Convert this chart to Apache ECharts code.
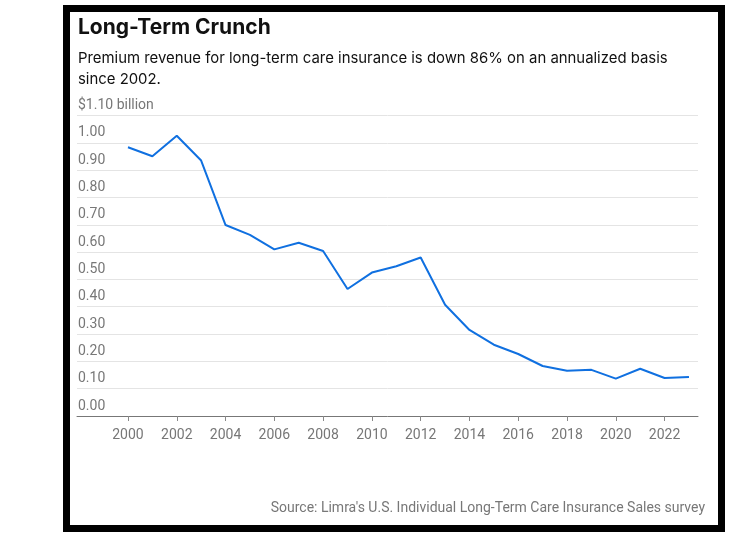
<!DOCTYPE html>
<html>
<head>
<meta charset="utf-8">
<script src="https://cdn.jsdelivr.net/npm/echarts@6/dist/echarts.min.js"></script>
<style>
html,body{margin:0;padding:0;background:#fff;}
#c{width:732px;height:540px;}
</style>
</head>
<body>
<div id="c"></div>
<script>
var years = [2000,2001,2002,2003,2004,2005,2006,2007,2008,2009,2010,2011,2012,2013,2014,2015,2016,2017,2018,2019,2020,2021,2022,2023];
var premiums = [0.984,0.951,1.026,0.935,0.699,0.663,0.610,0.634,0.604,0.465,0.525,0.548,0.580,0.407,0.315,0.261,0.227,0.183,0.166,0.169,0.137,0.173,0.139,0.143];
var xTickYears = [2000,2002,2004,2006,2008,2010,2012,2014,2016,2018,2020,2022];
var titleText = 'Long-Term Crunch';
var subtitleText = 'Premium revenue for long-term care insurance is down 86% on an annualized basis\nsince 2002.';
var sourceText = "Source: Limra's U.S. Individual Long-Term Care Insurance Sales survey";

var chart = echarts.init(document.getElementById('c'), null, {renderer:'canvas'});
var data = years.map(function(y,i){return [y, premiums[i]];});
chart.setOption({
  animation:false,
  backgroundColor:'#fff',
  graphic:[{
    type:'rect', silent:true, z:-1,
    shape:{x:66.5,y:8.5,width:655,height:520},
    style:{fill:'#fff',stroke:'#000',lineWidth:7}
  }],
  title:[
    {text:titleText,left:78,top:17,padding:0,textStyle:{fontFamily:'Inter',fontWeight:'bold',fontSize:21,color:'#111'}},
    {text:subtitleText,left:78,top:48,padding:0,textStyle:{fontFamily:'Inter',fontWeight:'normal',fontSize:14.9,lineHeight:21,color:'#111'}},
    {text:sourceText,right:27,top:501,padding:0,textStyle:{fontFamily:'Roboto',fontWeight:'normal',fontSize:14,color:'#777'}}
  ],
  grid:{left:77,right:34,top:115.5,bottom:124},
  xAxis:{
    type:'value', min:1997.91, max:2023.37,
    axisLine:{show:true,lineStyle:{color:'#777',width:1}},
    axisTick:{show:true,length:5,lineStyle:{color:'#888'},customValues:xTickYears},
    axisLabel:{color:'#777',fontFamily:'Roboto',fontSize:14,margin:12,customValues:xTickYears,formatter:function(v){return String(v);}},
    splitLine:{show:false}
  },
  yAxis:{
    type:'value', min:0, max:1.1, interval:0.1,
    axisLine:{show:false}, axisTick:{show:false},
    axisLabel:{inside:true,margin:1,verticalAlign:'bottom',padding:[0,0,3,0],color:'#777',fontFamily:'Roboto',fontSize:14,
      formatter:function(v){return Math.abs(v-1.1)<1e-6 ? '$1.10 billion' : v.toFixed(2);}},
    splitLine:{show:true,lineStyle:{color:'#e4e4e4',width:1}}
  },
  series:[{
    type:'line', data:data, symbol:'none', lineStyle:{color:'#1070e0',width:2}, z:3
  }]
});
</script>
</body>
</html>
